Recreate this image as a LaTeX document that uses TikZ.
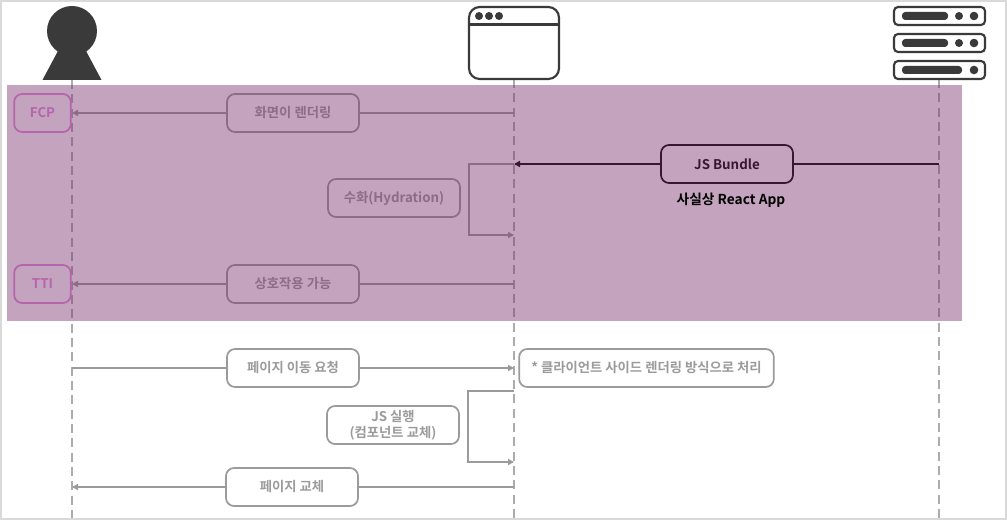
\documentclass[tikz,border=0pt]{standalone}
\usepackage{fontspec}
\setmainfont{Noto Sans CJK KR}[BoldFont={Noto Sans CJK KR Bold}]
\usetikzlibrary{arrows.meta}
\definecolor{linegray}{HTML}{9B9B9B}
\definecolor{lifegray}{HTML}{ACACAC}
\definecolor{icondark}{HTML}{3A3A3A}
\definecolor{pinkline}{HTML}{E38FDC}
\definecolor{bandcolor}{HTML}{7C3371}
\tikzset{
  x=0.75pt,y=-0.75pt,
  lifeline/.style={draw=lifegray,line width=1.2pt,dash pattern=on 6.75pt off 4pt},
  labelbox/.style={draw=linegray,fill=white,line width=1.3pt,rounded corners=6pt,text=linegray,
    font=\bfseries\fontsize{10}{13}\selectfont,align=center,inner sep=0pt,minimum width=99pt,minimum height=28.5pt},
  metricbox/.style={labelbox,draw=pinkline,text=pinkline,minimum width=42.5pt},
  bundlebox/.style={labelbox,draw=black,text=black},
  clientbox/.style={labelbox,minimum width=191pt},
  flow/.style={draw=linegray,line width=1.3pt,-{Triangle[length=4.5pt,width=4.5pt]}},
  flowdark/.style={draw=black,line width=1.3pt,-{Triangle[length=4.5pt,width=4.5pt]}},
  plainflow/.style={draw=linegray,line width=1.3pt},
  plaindark/.style={draw=black,line width=1.3pt},
  iconline/.style={draw=icondark,line width=1.6pt,rounded corners=3pt,fill=white},
  iconfill/.style={fill=icondark},
  band/.style={fill=bandcolor,fill opacity=0.45},
  caption/.style={text=black,font=\bfseries\fontsize{10.3}{13}\selectfont,inner sep=0pt}
}
\begin{document}
\begin{tikzpicture}
\useasboundingbox (0,0) rectangle (1007,520);
\fill[white] (0,0) rectangle (1007,520);
% lifeline ends
\coordinate (userTop) at (72,80);
\coordinate (userEnd) at (72,519);
\coordinate (appTop) at (514,79);
\coordinate (appEnd) at (514,519);
\coordinate (srvTop) at (939,79);
\coordinate (srvEnd) at (939,519);
\draw[lifeline] (userTop) -- (userEnd);
\draw[lifeline] (appTop) -- (appEnd);
\draw[lifeline] (srvTop) -- (srvEnd);
% person icon
\fill[iconfill] (72,31) circle (25);
\fill[iconfill] (58.5,50) -- (42.5,80) -- (101.5,80) -- (85.5,50) -- cycle;
% browser icon
\draw[iconline,rounded corners=8pt] (469,7) rectangle (559,79);
\draw[draw=icondark,line width=1.6pt] (469,24.5) -- (559,24.5);
\foreach \dotx in {479,489,499}{\fill[iconfill] (\dotx,16) circle (4);}
% server icon
\foreach \rackY/\barEnd in {7/948,34/948,61/962}{
  \draw[iconline] (894,\rackY) rectangle (985,\rackY+18);
  \fill[iconfill,rounded corners=2.5pt] (902,\rackY+5) rectangle (\barEnd,\rackY+13);
  \fill[iconfill] (974,\rackY+9) circle (4.3);
}
\fill[iconfill] (959,16) circle (4);
\fill[iconfill] (959,43) circle (4);
% boxes
\node[metricbox] (fcp) at (42.5,113) {FCP};
\node[labelbox] (render) at (293,113) {화면이 렌더링};
\node[bundlebox] (bundle) at (727,164) {JS Bundle};
\node[labelbox] (hydrate) at (394,198) {수화(Hydration)};
\node[labelbox] (interact) at (293,284) {상호작용 가능};
\node[metricbox] (tti) at (42.5,284) {TTI};
\node[labelbox] (move) at (293,368) {페이지 이동 요청};
\node[clientbox] (client) at (646.5,368) {* 클라이언트 사이드 렌더링 방식으로 처리};
\node[labelbox] (jsrun) at (393,425) {JS 실행\\[-1pt](컴포넌트 교체)};
\node[labelbox] (swap) at (292,487) {페이지 교체};
% connectors
\draw[flow] (render.west) -- (render.west -| userTop);
\draw[plainflow] (render.east) -- (render.east -| appTop);
\draw[flowdark] (bundle.west) -- (bundle.west -| appTop);
\draw[plaindark] (bundle.east) -- (bundle.east -| srvTop);
\coordinate (hydA) at (514,164);
\coordinate (hydB) at (469,164);
\coordinate (hydC) at (469,235);
\coordinate (hydD) at (514,235);
\draw[flow] (hydA) -- (hydB) -- (hydC) -- (hydD);
\draw[flow] (interact.west) -- (interact.west -| userTop);
\draw[plainflow] (interact.east) -- (interact.east -| appTop);
\draw[plainflow] (move.west) -- (move.west -| userTop);
\draw[flow] (move.east) -- (move.east -| appTop);
\coordinate (runA) at (514,391);
\coordinate (runB) at (468,391);
\coordinate (runC) at (468,462);
\coordinate (runD) at (514,462);
\draw[flow] (runA) -- (runB) -- (runC) -- (runD);
\draw[flow] (swap.west) -- (swap.west -| userTop);
\draw[plainflow] (swap.east) -- (swap.east -| appTop);
% overlay band
\fill[band] (7,85) rectangle (962,321);
\node[caption] (reactapp) at (731,200.5) {사실상 React App};
% frame
\draw[draw=black!15,line width=1.5pt] (1,1) rectangle (1006,519);
\end{tikzpicture}
\end{document}
